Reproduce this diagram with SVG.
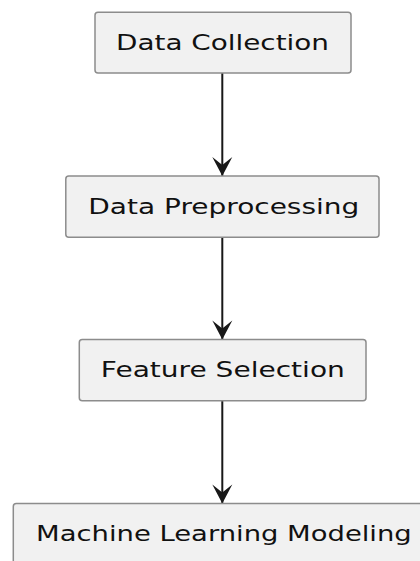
<svg xmlns="http://www.w3.org/2000/svg" width="420" height="561" viewBox="0 0 420 561">
<style>
.box{fill:#F1F1F1;stroke:#8C8C8C;stroke-width:1.5}
.lbl{font-family:"DejaVu Sans",sans-serif;font-size:21px;fill:#111;text-anchor:middle}
.edge{stroke:#181818;stroke-width:2;fill:none}
</style>
<defs>
<marker id="ah" markerUnits="userSpaceOnUse" markerWidth="24" markerHeight="24" refX="0" refY="0" orient="auto" overflow="visible">
<path d="M0,0 L-19,-10 L-11,0 L-19,10 Z" fill="#181818"/>
</marker>
</defs>
<g id="connectors">
<line class="edge" x1="222.3" y1="73" x2="222.3" y2="176" marker-end="url(#ah)"/>
<line class="edge" x1="222.3" y1="237" x2="222.3" y2="339.5" marker-end="url(#ah)"/>
<line class="edge" x1="222.3" y1="401" x2="222.3" y2="503.5" marker-end="url(#ah)"/>
</g>
<g id="n1">
<rect class="box" x="95" y="12.3" width="256" height="60.7" rx="3"/>
<text class="lbl" x="222.5" y="49.5" textLength="213" lengthAdjust="spacingAndGlyphs">Data Collection</text>
</g>
<g id="n2">
<rect class="box" x="65.8" y="176" width="313.2" height="61.2" rx="3"/>
<text class="lbl" x="223.8" y="214" textLength="271" lengthAdjust="spacingAndGlyphs">Data Preprocessing</text>
</g>
<g id="n3">
<rect class="box" x="79.3" y="339.5" width="286.7" height="61.2" rx="3"/>
<text class="lbl" x="222.8" y="377" textLength="244" lengthAdjust="spacingAndGlyphs">Feature Selection</text>
</g>
<g id="n4">
<rect class="box" x="13.3" y="503.5" width="418" height="61.2" rx="3"/>
<text class="lbl" x="223.9" y="541" textLength="375.7" lengthAdjust="spacingAndGlyphs">Machine Learning Modeling</text>
</g>
</svg>
